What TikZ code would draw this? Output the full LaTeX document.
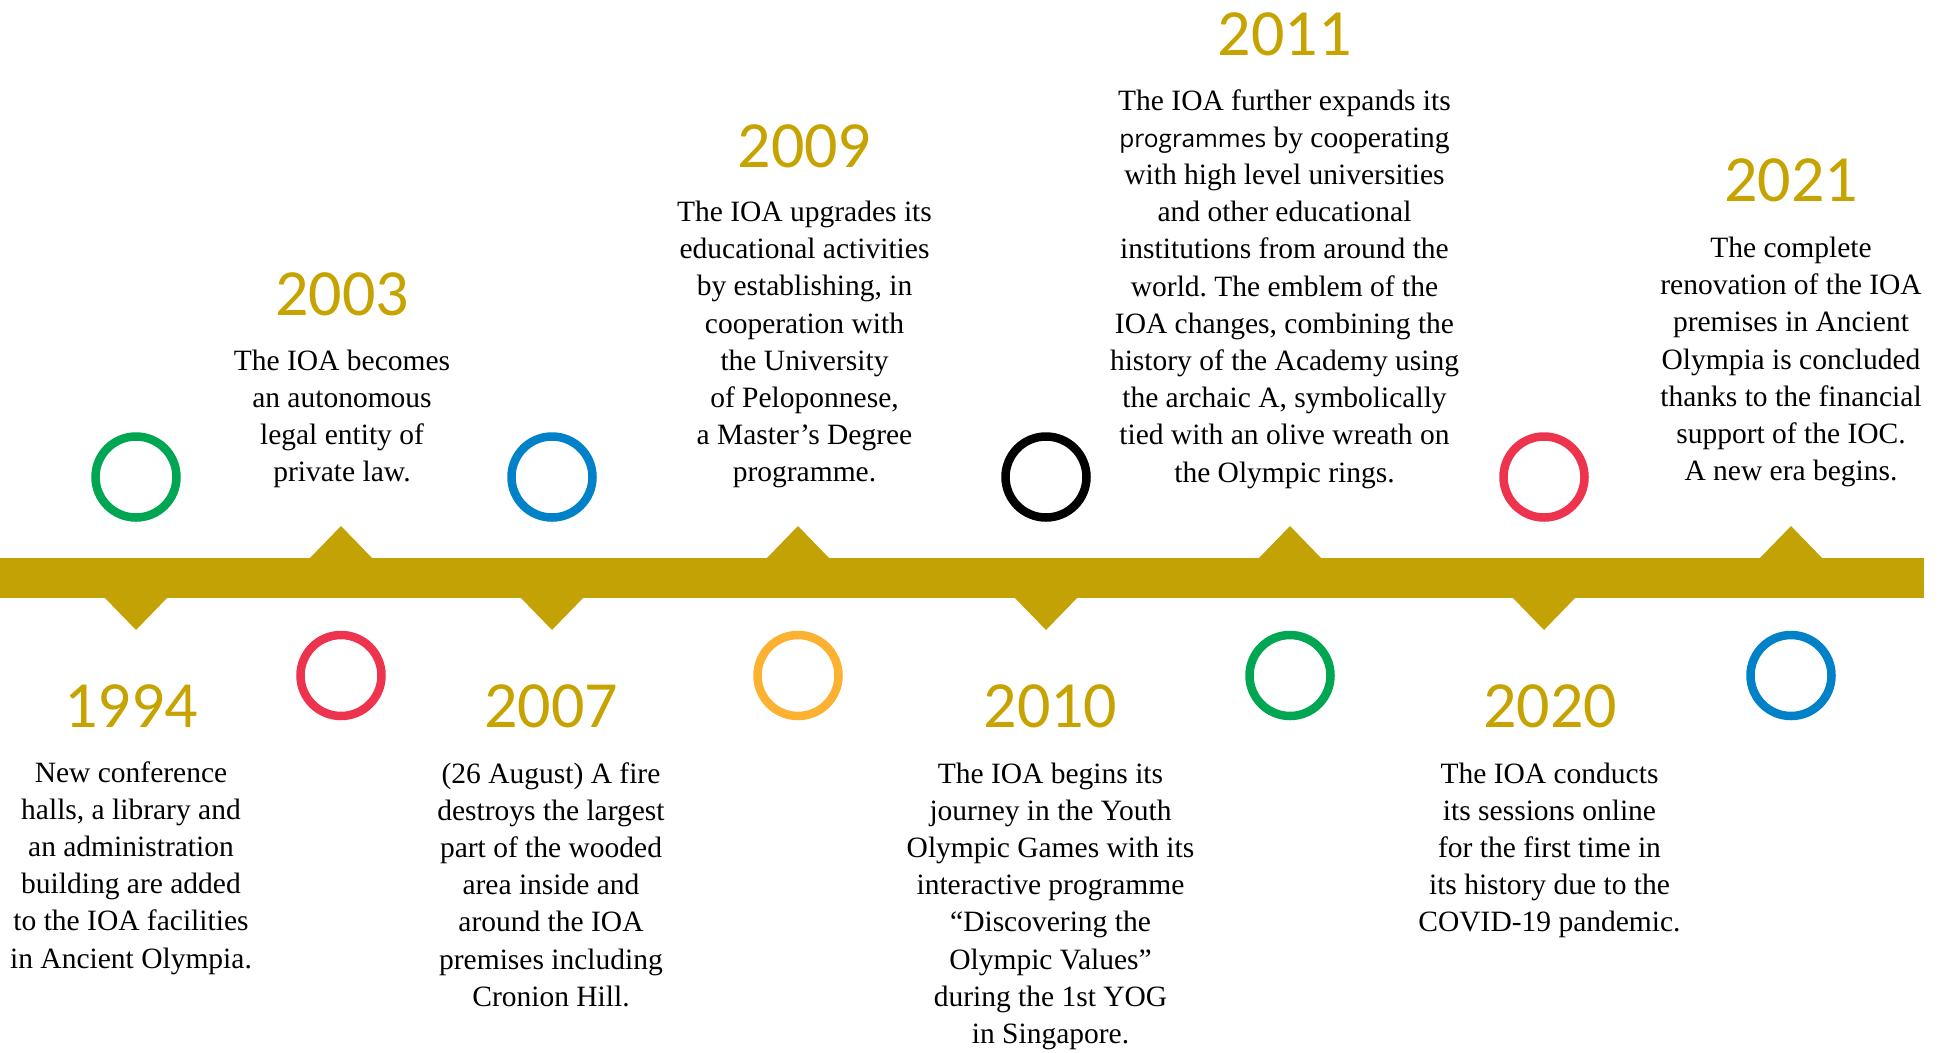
\documentclass[tikz,border=0pt]{standalone}
\usepackage{fontspec}
\setmainfont{Liberation Serif}
\newfontfamily\yearfont{Carlito}
\newfontfamily\sansword{Open Sans}
\definecolor{gold}{HTML}{C2A205}
\definecolor{goldtext}{HTML}{C6A300}
\definecolor{oBlue}{HTML}{0081C8}
\definecolor{oYellow}{HTML}{FCB131}
\definecolor{oBlack}{HTML}{000000}
\definecolor{oGreen}{HTML}{00A651}
\definecolor{oRed}{HTML}{EE334E}
\frenchspacing
\newcommand\blk[1]{\fontsize{29.5}{37.2}\selectfont\begin{tabular}[t]{@{}c@{}}#1\end{tabular}}
\tikzset{
  ring/.style={circle, draw=#1, line width=8.5pt, minimum size=81pt, inner sep=0pt},
  yearlbl/.style={font=\yearfont\fontsize{66}{66}\selectfont, text=goldtext, inner sep=0pt, anchor=base},
  desc/.style={inner sep=0pt, anchor=base, text=black},
}
\begin{document}
\begin{tikzpicture}[x=1pt,y=-1pt]
\useasboundingbox (0,0) rectangle (1945,1052);
% bar
\fill[gold] (0,558) rectangle (1924,598);
% up triangles
\foreach \px in {341,798,1290,1791}{
  \fill[gold] (\px-32,559) -- (\px,526) -- (\px+32,559) -- cycle;
}
% down triangles
\foreach \px in {136,552,1046,1544}{
  \fill[gold] (\px-32,597) -- (\px,630) -- (\px+32,597) -- cycle;
}
% rings
\node[ring=oGreen] (r1994) at (136,477) {};
\node[ring=oBlue] (r2007) at (552,477) {};
\node[ring=oBlack] (r2010) at (1046,477) {};
\node[ring=oRed] (r2020) at (1544,477) {};
\node[ring=oRed] (r2003) at (341,675.5) {};
\node[ring=oYellow] (r2009) at (798,675.5) {};
\node[ring=oGreen] (r2011) at (1290,675.5) {};
\node[ring=oBlue] (r2021) at (1791,675.5) {};
% years upper
\node[yearlbl] (y2003) at (342,315) {2003};
\node[yearlbl] (y2009) at (804.5,167) {2009};
\node[yearlbl] (y2011) at (1284.5,55) {2011};
\node[yearlbl] (y2021) at (1791,201) {2021};
% years lower
\node[yearlbl] (y1994) at (131,727) {1994};
\node[yearlbl] (y2007) at (551,727) {2007};
\node[yearlbl] (y2010) at (1050.5,727) {2010};
\node[yearlbl] (y2020) at (1550,727) {2020};
% upper texts
\node[desc] (t2003) at (342,370) {\blk{The IOA becomes\\ an autonomous\\ legal entity of\\ private law.}};
\node[desc] (t2009) at (804.5,221.5) {\blk{The IOA upgrades its\\ educational activities\\ by establishing, in\\ cooperation with\\ the University\\ of Peloponnese,\\ a Master’s Degree\\ programme.}};
\node[desc] (t2011) at (1284.5,110) {\blk{The IOA further expands its\\ {\sansword\fontsize{24.5}{37.2}\selectfont programmes} by cooperating\\ with high level universities\\ and other educational\\ institutions from around the\\ world. The emblem of the\\ IOA changes, combining the\\ history of the Academy using\\ the archaic A, symbolically\\ tied with an olive wreath on\\ the Olympic rings.}};
\node[desc] (t2021) at (1791,257.5) {\blk{The complete\\ renovation of the IOA\\ premises in Ancient\\ Olympia is concluded\\ thanks to the financial\\ support of the IOC.\\ A new era begins.}};
% lower texts
\node[desc] (t1994) at (131,782) {\blk{New conference\\ halls, a library and\\ an administration\\ building are added\\ to the IOA facilities\\ in Ancient Olympia.}};
\node[desc] (t2007) at (551,783) {\blk{(26 August) A fire\\ destroys the largest\\ part of the wooded\\ area inside and\\ around the IOA\\ premises including\\ Cronion Hill.}};
\node[desc] (t2010) at (1050.5,783) {\blk{The IOA begins its\\ journey in the Youth\\ Olympic Games with its\\ interactive programme\\ “Discovering the\\ Olympic Values”\\ during the 1st YOG\\ in Singapore.}};
\node[desc] (t2020) at (1549.5,783) {\blk{The IOA conducts\\ its sessions online\\ for the first time in\\ its history due to the\\ COVID-19 pandemic.}};
\end{tikzpicture}
\end{document}
